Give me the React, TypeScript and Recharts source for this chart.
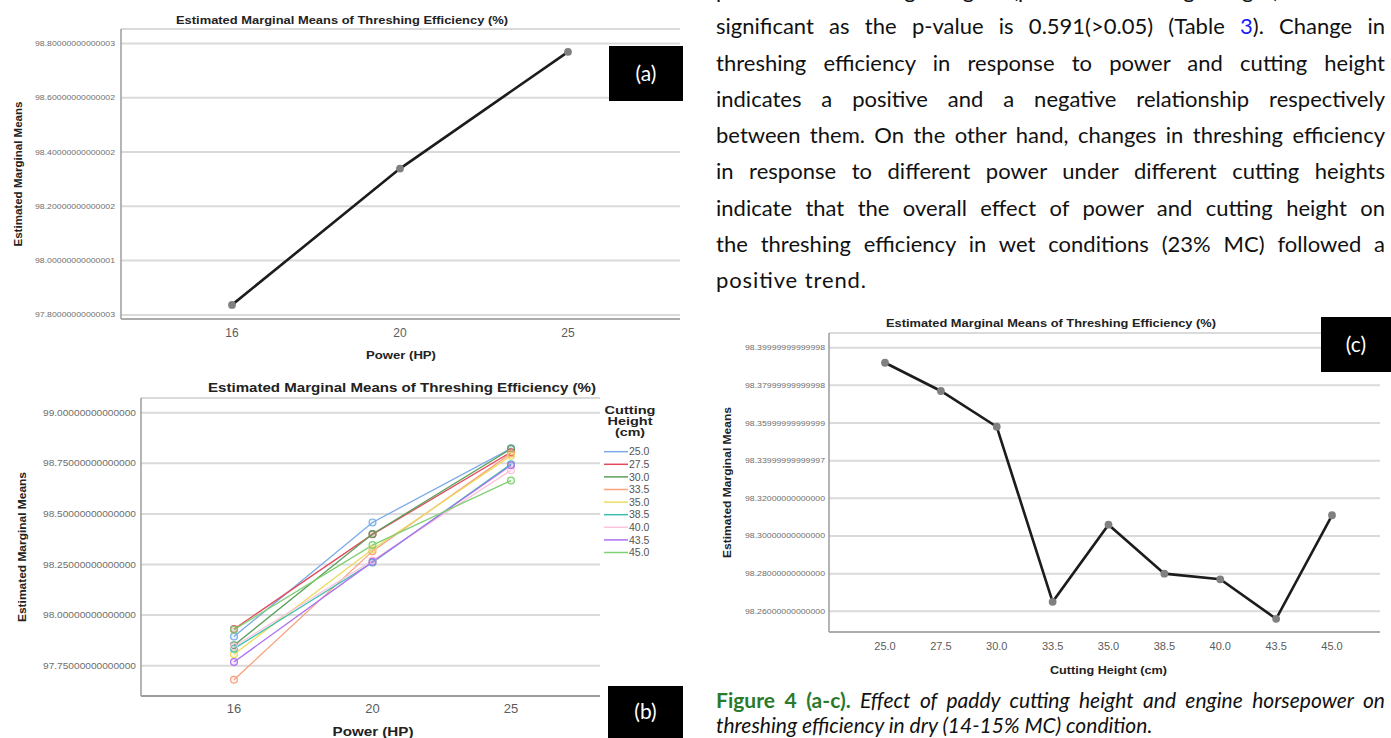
import React from "react";
import { LineChart, Line, XAxis, YAxis, CartesianGrid } from "recharts";

// (a) main effect of power
const powerLevels = ["16", "20", "25"];
const powerMeans = [97.837, 98.339, 98.769];
const powerTicks = [97.8, 98.0, 98.2, 98.4, 98.6, 98.8];
const powerTickLabels = [
  "97.80000000000003",
  "98.00000000000001",
  "98.20000000000002",
  "98.40000000000002",
  "98.60000000000002",
  "98.80000000000003",
];

// (b) power x cutting height, one array per cutting height (values at 16, 20, 25 HP)
const heightLabels = ["25.0", "27.5", "30.0", "33.5", "35.0", "38.5", "40.0", "43.5", "45.0"];
const heightColors = [
  "#7aaae8", // 25.0 blue
  "#e34a5e", // 27.5 red
  "#5c9f5c", // 30.0 green
  "#f9a07e", // 33.5 orange
  "#ebdc60", // 35.0 yellow
  "#3bbfb2", // 38.5 teal
  "#fcc3dd", // 40.0 pink
  "#ac72f0", // 43.5 purple
  "#7fd070", // 45.0 light green
];
const h250 = [97.894, 98.458, 98.824];
const h275 = [97.931, 98.399, 98.805];
const h300 = [97.851, 98.401, 98.822];
const h335 = [97.68, 98.316, 98.799];
const h350 = [97.806, 98.325, 98.787];
const h385 = [97.834, 98.26, 98.746];
const h400 = [97.845, 98.27, 98.716];
const h435 = [97.768, 98.263, 98.74];
const h450 = [97.928, 98.346, 98.665];
const interactionSeries = [h250, h275, h300, h335, h350, h385, h400, h435, h450];
const interactionTicks = [97.75, 98.0, 98.25, 98.5, 98.75, 99.0];
const interactionTickLabels = [
  "97.75000000000000",
  "98.00000000000000",
  "98.25000000000000",
  "98.50000000000000",
  "98.75000000000000",
  "99.00000000000000",
];

// (c) main effect of cutting height
const cuttingMeans = [98.392, 98.377, 98.358, 98.265, 98.306, 98.28, 98.277, 98.256, 98.311];
const cuttingTicks = [98.26, 98.28, 98.3, 98.32, 98.34, 98.36, 98.38, 98.4];
const cuttingTickLabels = [
  "98.26000000000000",
  "98.28000000000000",
  "98.30000000000000",
  "98.32000000000000",
  "98.33999999999997",
  "98.35999999999999",
  "98.37999999999998",
  "98.39999999999998",
];

const title = "Estimated Marginal Means of Threshing Efficiency (%)";
const yTitle = "Estimated Marginal Means";

const bodyLines = [
  "power and cutting height (power × cutting height) was not",
  "significant as the p-value is 0.591(>0.05) (Table 3). Change in",
  "threshing efficiency in response to power and cutting height",
  "indicates a positive and a negative relationship respectively",
  "between them. On the other hand, changes in threshing efficiency",
  "in response to different power under different cutting heights",
  "indicate that the overall effect of power and cutting height on",
  "the threshing efficiency in wet conditions (23% MC) followed a",
  "positive trend.",
];
const captionLead = "Figure 4 (a-c).";
const captionRest = " Effect of paddy cutting height and engine horsepower on";
const captionEnd = "threshing efficiency in dry (14-15% MC) condition.";

const powerData = powerLevels.map((p, i) => ({ power: p, mean: powerMeans[i] }));
const interactionData = powerLevels.map((p, i) => {
  const row: Record<string, string | number> = { power: p };
  interactionSeries.forEach((s, j) => {
    row["h" + j] = s[i];
  });
  return row;
});
const cuttingData = heightLabels.map((h, i) => ({ height: h, mean: cuttingMeans[i] }));

const CHART_FONT = "'Liberation Sans', Arial, sans-serif";
const TEXT_FONT = "Lato, 'Noto Sans', sans-serif";
const TEXT_SIZE = 22;
const CAPTION_SIZE = 21;
const TEXT_WIDTH = 669;
const GRID = "#dadada";
const AXIS = "#9c9c9c";

// justified lines: put the slack into the spaces, like a word processor does
let measureCtx: CanvasRenderingContext2D | null = null;
function textWidth(text: string, font: string) {
  if (!measureCtx && typeof document !== "undefined") {
    measureCtx = document.createElement("canvas").getContext("2d");
  }
  if (!measureCtx) return 0;
  measureCtx.font = font;
  return measureCtx.measureText(text).width;
}
function spacingFor(width: number, text: string) {
  const spaces = (text.match(/ /g) || []).length;
  if (!width || !spaces) return 0;
  return Math.max(-0.5, (TEXT_WIDTH - width) / spaces);
}

function labelFor(ticks: number[], labels: string[], v: number) {
  const i = ticks.findIndex((t) => Math.abs(t - v) < 1e-6);
  return i >= 0 ? labels[i] : String(v);
}

const makeYTick =
  (ticks: number[], labels: string[], right: number, len: number, size: number) =>
  (props: any) =>
    (
      <text
        x={right}
        y={props.y}
        dy={size * 0.36}
        textAnchor="end"
        fontSize={size}
        fontFamily={CHART_FONT}
        fill="#6e6e6e"
        textLength={len}
        lengthAdjust="spacingAndGlyphs"
      >
        {labelFor(ticks, labels, props.payload.value)}
      </text>
    );

const makeXTick = (baseline: number, size: number) => (props: any) =>
  (
    <text
      x={props.x}
      y={baseline}
      textAnchor="middle"
      fontSize={size}
      fontFamily={CHART_FONT}
      fill="#5c5c5c"
    >
      {props.payload.value}
    </text>
  );

function RotLabel({ x, y, len, size }: { x: number; y: number; len: number; size: number }) {
  return (
    <text
      transform={`translate(${x},${y}) rotate(-90)`}
      textAnchor="middle"
      dy="0.35em"
      fontSize={size}
      fontWeight="bold"
      fill="#222"
      fontFamily={CHART_FONT}
      textLength={len}
      lengthAdjust="spacingAndGlyphs"
    >
      {yTitle}
    </text>
  );
}

function BoldText({ x, y, len, size, children }: any) {
  return (
    <text
      x={x}
      y={y}
      textAnchor="middle"
      fontSize={size}
      fontWeight="bold"
      fill="#222"
      fontFamily={CHART_FONT}
      textLength={len}
      lengthAdjust="spacingAndGlyphs"
    >
      {children}
    </text>
  );
}

function PanelTag({ x, y, w, h, text }: any) {
  return (
    <g>
      <rect x={x} y={y} width={w} height={h} fill="#000" />
      <text
        x={x + w / 2}
        y={y + h / 2}
        dy="0.35em"
        textAnchor="middle"
        fontSize={21}
        fill="#fff"
        fontFamily={TEXT_FONT}
      >
        {text}
      </text>
    </g>
  );
}

export default function App() {
  const bodyTop = [-2, 34, 70.5, 107, 143, 179, 216, 252, 288];
  const plainFont = `${TEXT_SIZE}px ${TEXT_FONT}`;
  const captionWidth =
    textWidth(captionLead, `bold ${CAPTION_SIZE}px ${TEXT_FONT}`) +
    textWidth(captionRest, `italic ${CAPTION_SIZE}px ${TEXT_FONT}`);
  const captionSpacing = spacingFor(captionWidth, captionLead + captionRest);

  return (
    <div
      style={{
        position: "absolute",
        left: 0,
        top: 0,
        width: 1391,
        height: 738,
        background: "#fff",
        overflow: "hidden",
      }}
    >
      {/* (a) */}
      <div style={{ position: "absolute", left: 0, top: 0 }}>
        <LineChart width={700} height={370} data={powerData} margin={{ top: 29, right: 20, bottom: 21, left: 0 }}>
          <CartesianGrid vertical={false} stroke={GRID} strokeWidth={2} />
          <XAxis
            dataKey="power"
            height={30}
            padding={{ left: 111, right: 112 }}
            axisLine={{ stroke: AXIS, strokeWidth: 1.5 }}
            tickLine={false}
            tick={makeXTick(337, 12)}
          />
          <YAxis
            width={121}
            type="number"
            domain={[97.785, 98.853]}
            ticks={powerTicks}
            axisLine={{ stroke: AXIS, strokeWidth: 1.5 }}
            tickLine={false}
            tick={makeYTick(powerTicks, powerTickLabels, 115, 80, 7)}
          />
          <Line
            type="linear"
            dataKey="mean"
            stroke="#1c1c1c"
            strokeWidth={2.6}
            dot={{ r: 2.6, fill: "#808080", stroke: "#808080" }}
            isAnimationActive={false}
          />
        </LineChart>
      </div>

      {/* (b) */}
      <div style={{ position: "absolute", left: 0, top: 370 }}>
        <LineChart width={700} height={368} data={interactionData} margin={{ top: 28, right: 100, bottom: 12, left: 0 }}>
          <CartesianGrid vertical={false} stroke={GRID} strokeWidth={2} />
          <XAxis
            dataKey="power"
            height={30}
            padding={{ left: 93, right: 89 }}
            axisLine={{ stroke: AXIS, strokeWidth: 2 }}
            tickLine={false}
            tick={makeXTick(343, 13)}
          />
          <YAxis
            width={141}
            type="number"
            domain={[97.6, 99.073]}
            ticks={interactionTicks}
            axisLine={{ stroke: AXIS, strokeWidth: 1.5 }}
            tickLine={false}
            tick={makeYTick(interactionTicks, interactionTickLabels, 136, 93, 8.5)}
          />
          {heightLabels.map((h, j) => (
            <Line
              key={h}
              type="linear"
              dataKey={"h" + j}
              name={h}
              stroke={heightColors[j]}
              strokeWidth={1.3}
              dot={{ r: 3.4, stroke: heightColors[j], strokeWidth: 1.2, fill: heightColors[j], fillOpacity: 0.15 }}
              isAnimationActive={false}
            />
          ))}
        </LineChart>
      </div>

      {/* (c) */}
      <div style={{ position: "absolute", left: 700, top: 300 }}>
        <LineChart width={691} height={438} data={cuttingData} margin={{ top: 33, right: 11, bottom: 76, left: 0 }}>
          <CartesianGrid vertical={false} stroke={GRID} strokeWidth={2} />
          <XAxis
            dataKey="height"
            height={30}
            padding={{ left: 56, right: 48 }}
            axisLine={{ stroke: AXIS, strokeWidth: 1.5 }}
            tickLine={false}
            tick={makeXTick(350, 11)}
          />
          <YAxis
            width={129}
            type="number"
            domain={[98.249, 98.4078]}
            ticks={cuttingTicks}
            axisLine={{ stroke: AXIS, strokeWidth: 1.5 }}
            tickLine={false}
            tick={makeYTick(cuttingTicks, cuttingTickLabels, 125, 80, 7)}
          />
          <Line
            type="linear"
            dataKey="mean"
            stroke="#1c1c1c"
            strokeWidth={2.6}
            dot={{ r: 2.6, fill: "#808080", stroke: "#808080" }}
            isAnimationActive={false}
          />
        </LineChart>
      </div>

      {/* titles, legend, tags and text */}
      <svg
        width={1391}
        height={738}
        style={{ position: "absolute", left: 0, top: 0, pointerEvents: "none" }}
      >
        <BoldText x={342} y={24} len={332} size={10.5}>{title}</BoldText>
        <BoldText x={401} y={359} len={70} size={11}>Power (HP)</BoldText>
        <RotLabel x={18.5} y={174} len={145} size={10.5} />

        <BoldText x={402} y={392} len={388} size={12}>{title}</BoldText>
        <BoldText x={373} y={736} len={81} size={12}>Power (HP)</BoldText>
        <RotLabel x={21.5} y={547} len={150} size={11.5} />

        <BoldText x={1051} y={327} len={330} size={10.5}>{title}</BoldText>
        <BoldText x={1108.5} y={674} len={117} size={10.5}>Cutting Height (cm)</BoldText>
        <RotLabel x={727.5} y={482.5} len={151} size={10.5} />

        {/* legend of (b) */}
        <BoldText x={630} y={414} len={51} size={11.5}>Cutting</BoldText>
        <BoldText x={630} y={425} len={45} size={11.5}>Height</BoldText>
        <BoldText x={630} y={436} len={30} size={11.5}>(cm)</BoldText>
        {heightLabels.map((h, j) => {
          const yy = 451.7 + j * 12.6;
          return (
            <g key={h}>
              <line x1={604} x2={628} y1={yy} y2={yy} stroke={heightColors[j]} strokeWidth={1.5} />
              <text x={629} y={yy} dy="0.36em" fontSize={10.5} fill="#555" fontFamily={CHART_FONT}>
                {h}
              </text>
            </g>
          );
        })}

        <PanelTag x={609} y={46} w={74} h={55} text="(a)" />
        <PanelTag x={608} y={686} w={75} h={52} text="(b)" />
        <PanelTag x={1321} y={317} w={70} h={55} text="(c)" />

        {/* body text */}
        <g fontFamily={TEXT_FONT} fontSize={TEXT_SIZE} fill="#111">
          {bodyLines.map((line, i) => {
            const last = i === bodyLines.length - 1;
            if (last) {
              return (
                <text key={i} x={716} y={bodyTop[i]} textLength={150} lengthAdjust="spacing">
                  {line}
                </text>
              );
            }
            const ws = spacingFor(textWidth(line, plainFont), line);
            if (i === 1) {
              return (
                <text
                  key={i}
                  x={716}
                  y={bodyTop[i]}
                  style={{ wordSpacing: ws }}
                  textLength={TEXT_WIDTH}
                  lengthAdjust="spacing"
                >
                  significant as the p-value is 0.591(&gt;0.05) (Table <tspan fill="#1a1aff">3</tspan>). Change in
                </text>
              );
            }
            return (
              <text
                key={i}
                x={716}
                y={bodyTop[i]}
                style={{ wordSpacing: ws }}
                textLength={TEXT_WIDTH}
                lengthAdjust="spacing"
              >
                {line}
              </text>
            );
          })}
          <text
            x={716}
            y={708}
            fontSize={CAPTION_SIZE}
            style={{ wordSpacing: captionSpacing }}
            textLength={TEXT_WIDTH}
            lengthAdjust="spacing"
          >
            <tspan fill="#2b7a2b" fontWeight="bold">{captionLead}</tspan>
            <tspan fontStyle="italic">{captionRest}</tspan>
          </text>
          <text x={716} y={733} fontSize={CAPTION_SIZE} fontStyle="italic">
            {captionEnd}
          </text>
        </g>
      </svg>
    </div>
  );
}
